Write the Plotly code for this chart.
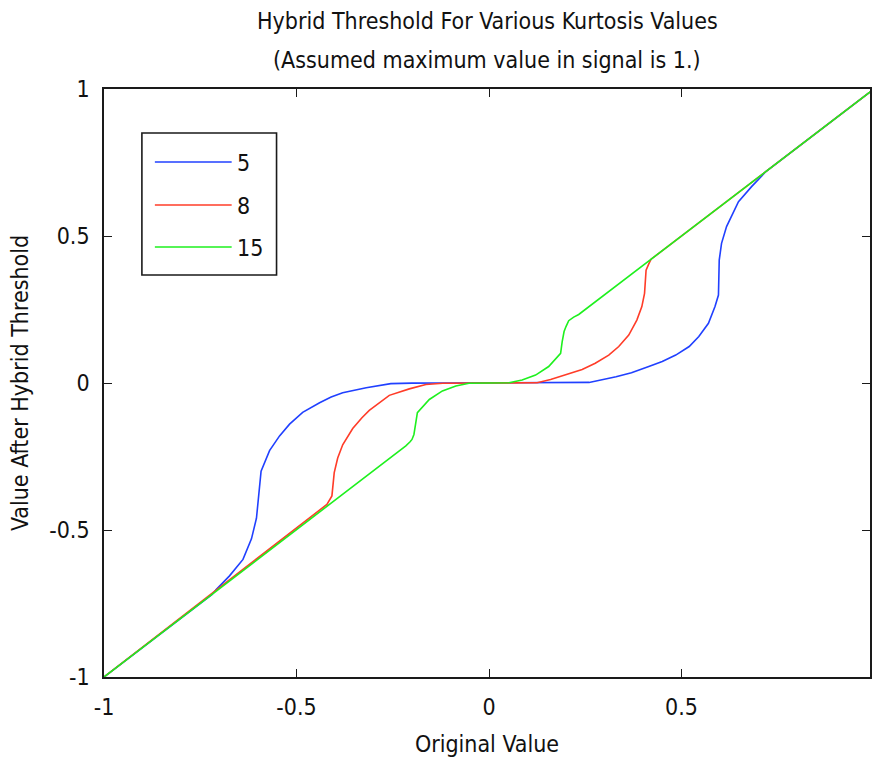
import plotly.graph_objects as go

# ---- data ----
series_names = ["5", "8", "15"]
series_colors = ["#2040ff", "#ff3c28", "#1ef01e"]

k5_x = [-1.0, -0.72, -0.708, -0.674, -0.639, -0.617, -0.604, -0.598, -0.592, -0.570, -0.544,
        -0.518, -0.484, -0.440, -0.410, -0.380, -0.319, -0.255, -0.20, -0.10, 0.0,
        0.10, 0.20, 0.26, 0.33, 0.37, 0.415, 0.45, 0.485, 0.52, 0.545, 0.57, 0.587, 0.596,
        0.598, 0.604, 0.617, 0.63, 0.648, 0.682, 0.717, 0.72, 1.0]
k5_y = [-1.0, -0.72, -0.702, -0.656, -0.600, -0.530, -0.460, -0.390, -0.300, -0.230, -0.180,
        -0.140, -0.100, -0.067, -0.048, -0.033, -0.016, -0.002, -0.0003, 0.0, 0.0,
        0.0, 0.0003, 0.002, 0.021, 0.035, 0.056, 0.073, 0.095, 0.124, 0.158, 0.203, 0.260, 0.299,
        0.418, 0.475, 0.532, 0.566, 0.617, 0.668, 0.713, 0.72, 1.0]

k8_x = [-1.0, -0.421, -0.408, -0.402, -0.393, -0.380, -0.354, -0.330, -0.311, -0.259, -0.207,
        -0.164, -0.12, -0.05, 0.0,
        0.05, 0.10, 0.125, 0.16, 0.199, 0.242, 0.276, 0.311, 0.337, 0.363, 0.384, 0.397, 0.404,
        0.408, 0.415, 0.421, 1.0]
k8_y = [-1.0, -0.413, -0.384, -0.305, -0.255, -0.210, -0.155, -0.118, -0.093, -0.042, -0.020,
        -0.005, -0.001, 0.0, 0.0,
        0.0, 0.0, 0.001, 0.012, 0.027, 0.046, 0.067, 0.095, 0.124, 0.163, 0.214, 0.260, 0.305,
        0.384, 0.405, 0.421, 1.0]

k15_x = [-1.0, -0.233, -0.216, -0.205, -0.200, -0.195, -0.190, -0.186, -0.155, -0.121, -0.086,
         -0.052, 0.0,
         0.052, 0.086, 0.121, 0.155, 0.186, 0.190, 0.195, 0.200, 0.207, 0.220, 0.233, 1.0]
k15_y = [-1.0, -0.233, -0.214, -0.200, -0.192, -0.175, -0.140, -0.101, -0.056, -0.027, -0.010,
         -0.001, 0.0,
         0.001, 0.010, 0.027, 0.056, 0.101, 0.140, 0.175, 0.192, 0.212, 0.224, 0.233, 1.0]

tick_vals = [-1, -0.5, 0, 0.5, 1]
tick_text = ["-1", "-0.5", "0", "0.5", "1"]

title_line1 = "Hybrid Threshold For Various Kurtosis Values"
title_line2 = "(Assumed maximum value in signal is 1.)"
x_title = "Original Value"
y_title = "Value After Hybrid Threshold"

FONT = "Liberation Sans Narrow, DejaVu Sans Condensed, Liberation Sans, Arial, sans-serif"
FS = 23

fig = go.Figure()
for xs, ys, name, col in [(k5_x, k5_y, series_names[0], series_colors[0]),
                          (k8_x, k8_y, series_names[1], series_colors[1]),
                          (k15_x, k15_y, series_names[2], series_colors[2])]:
    fig.add_trace(go.Scatter(x=xs, y=ys, mode="lines", name=name,
                             line=dict(color=col, width=1.6), showlegend=False))

axis_common = dict(
    showgrid=False, zeroline=False, showline=True, linecolor="#1a1a1a", linewidth=1.6,
    mirror="ticks", ticks="inside", ticklen=8, tickwidth=1.4, tickcolor="#1a1a1a",
    tickvals=tick_vals, ticktext=tick_text,
    tickfont=dict(family=FONT, size=FS, color="#111"),
)

fig.update_layout(
    width=872, height=758,
    margin=dict(l=104, r=0, t=89, b=81),
    paper_bgcolor="white", plot_bgcolor="white",
    font=dict(family=FONT, color="#111"),
    xaxis=dict(range=[-1, 0.9896], ticklabelstandoff=9,
               title=dict(text=x_title, font=dict(family=FONT, size=FS, color="#111"), standoff=16),
               **axis_common),
    yaxis=dict(range=[-1, 1], ticklabelstandoff=8,
               title=dict(text=y_title, font=dict(family=FONT, size=FS, color="#111"), standoff=14),
               **axis_common),
    showlegend=False,
)

# titles
fig.add_annotation(text=title_line1, xref="paper", yref="paper", x=0.5, y=1.0, yshift=68,
                   showarrow=False, font=dict(family=FONT, size=FS, color="#111"),
                   xanchor="center", yanchor="middle")
fig.add_annotation(text=title_line2, xref="paper", yref="paper", x=0.5, y=1.0, yshift=29,
                   showarrow=False, font=dict(family=FONT, size=FS, color="#111"),
                   xanchor="center", yanchor="middle")

# legend box drawn in paper coordinates
def px_x(p):
    return (p - 104) / 768.0

def px_y(p):
    return (677 - p) / 588.0

fig.add_shape(type="rect", xref="paper", yref="paper",
              x0=px_x(142), x1=px_x(277), y0=px_y(275), y1=px_y(133),
              line=dict(color="#1a1a1a", width=1.6), fillcolor="white", layer="above")
rows = [162, 205, 247]
for name, col, ry in zip(series_names, series_colors, rows):
    fig.add_shape(type="line", xref="paper", yref="paper",
                  x0=px_x(155), x1=px_x(232), y0=px_y(ry), y1=px_y(ry),
                  line=dict(color=col, width=1.6), layer="above")
    fig.add_annotation(text=name, xref="paper", yref="paper", x=px_x(235), y=px_y(ry + 1),
                       showarrow=False, xanchor="left", yanchor="middle",
                       font=dict(family=FONT, size=FS, color="#111"))

fig.write_html("out.html")
